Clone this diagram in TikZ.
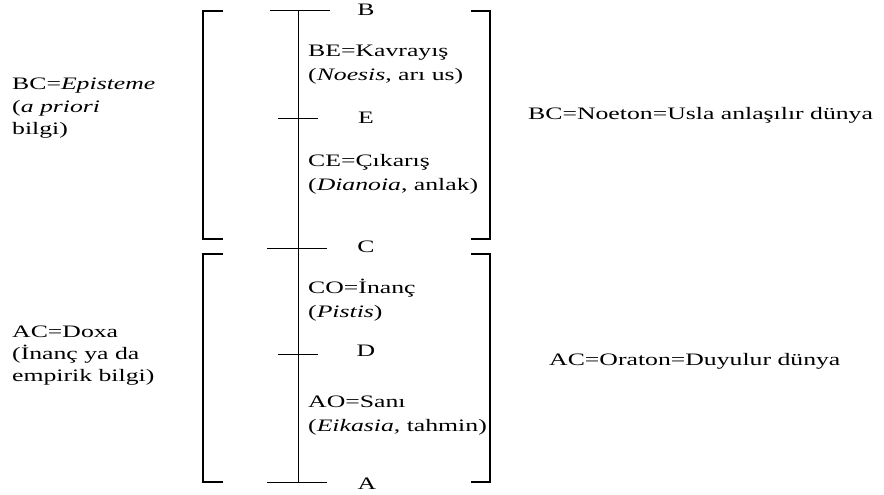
\documentclass[tikz,border=0pt]{standalone}
\usepackage{fontspec}
\setmainfont{Liberation Serif}[FakeStretch=1.47]
\usetikzlibrary{positioning}
\tikzset{
  txt/.style={font=\fontsize{17.5}{24}\selectfont,inner sep=0pt,anchor=base west,align=left},
  txtl/.style={txt,font=\fontsize{17.5}{22}\selectfont},
  pnt/.style={font=\fontsize{17.5}{24}\selectfont,inner sep=0pt},
  axis/.style={line width=1pt},
  brk/.style={line width=1.2pt},
}

\begin{document}
\begin{tikzpicture}[x=1pt,y=-1pt]
  \useasboundingbox (0,0) rectangle (884,495);

  % points on the divided line
  \coordinate (b) at (298,11);
  \coordinate (e) at (298,118);
  \coordinate (c) at (298,248);
  \coordinate (d) at (298,354);
  \coordinate (a) at (298,482);

  \draw[axis] (b) -- (a);
  \draw[axis] ([xshift=-28pt]b) -- ([xshift=32pt]b);
  \draw[axis] ([xshift=-20pt]e) -- ([xshift=20pt]e);
  \draw[axis] ([xshift=-31pt]c) -- ([xshift=29pt]c);
  \draw[axis] ([xshift=-20pt]d) -- ([xshift=20pt]d);
  \draw[axis] ([xshift=-31pt]a) -- ([xshift=29pt]a);

  \node[pnt] (lb) at (366,10)  {B};
  \node[pnt] (le) at (366,118) {E};
  \node[pnt] (lc) at (366,247) {C};
  \node[pnt] (ld) at (366,351) {D};
  \node[pnt] (la) at (367,484) {A};

  % brackets
  \draw[brk] (223,11) -- (203,11) -- (203,239) -- (223,239);
  \draw[brk] (471,11) -- (490,11) -- (490,239) -- (471,239);
  \draw[brk] (223,254) -- (203,254) -- (203,482) -- (223,482);
  \draw[brk] (471,254) -- (490,254) -- (490,482) -- (471,482);

  % segments (base = last line)
  \node[txt] (be) at (308,81)  {BE=Kavrayış\\(\textit{Noesis}, arı us)};
  \node[txt] (ce) at (308,190) {CE=Çıkarış\\(\textit{Dianoia}, anlak)};
  \node[txt] (co) at (308,317) {CO=İnanç\\(\textit{Pistis})};
  \node[txt] (ao) at (308,431) {AO=Sanı\\(\textit{Eikasia}, tahmin)};

  % left and right
  \node[txtl] (episteme) at (12,134) {BC=\textit{Episteme}\\(\textit{a priori}\\bilgi)};
  \node[txtl] (doxa)     at (12,381) {AC=Doxa\\(İnanç ya da\\empirik bilgi)};
  \node[txt]  (noeton)   at (528,119) {BC=Noeton=Usla anlaşılır dünya};
  \node[txt]  (oraton)   at (549,365) {AC=Oraton=Duyulur dünya};
\end{tikzpicture}
\end{document}
